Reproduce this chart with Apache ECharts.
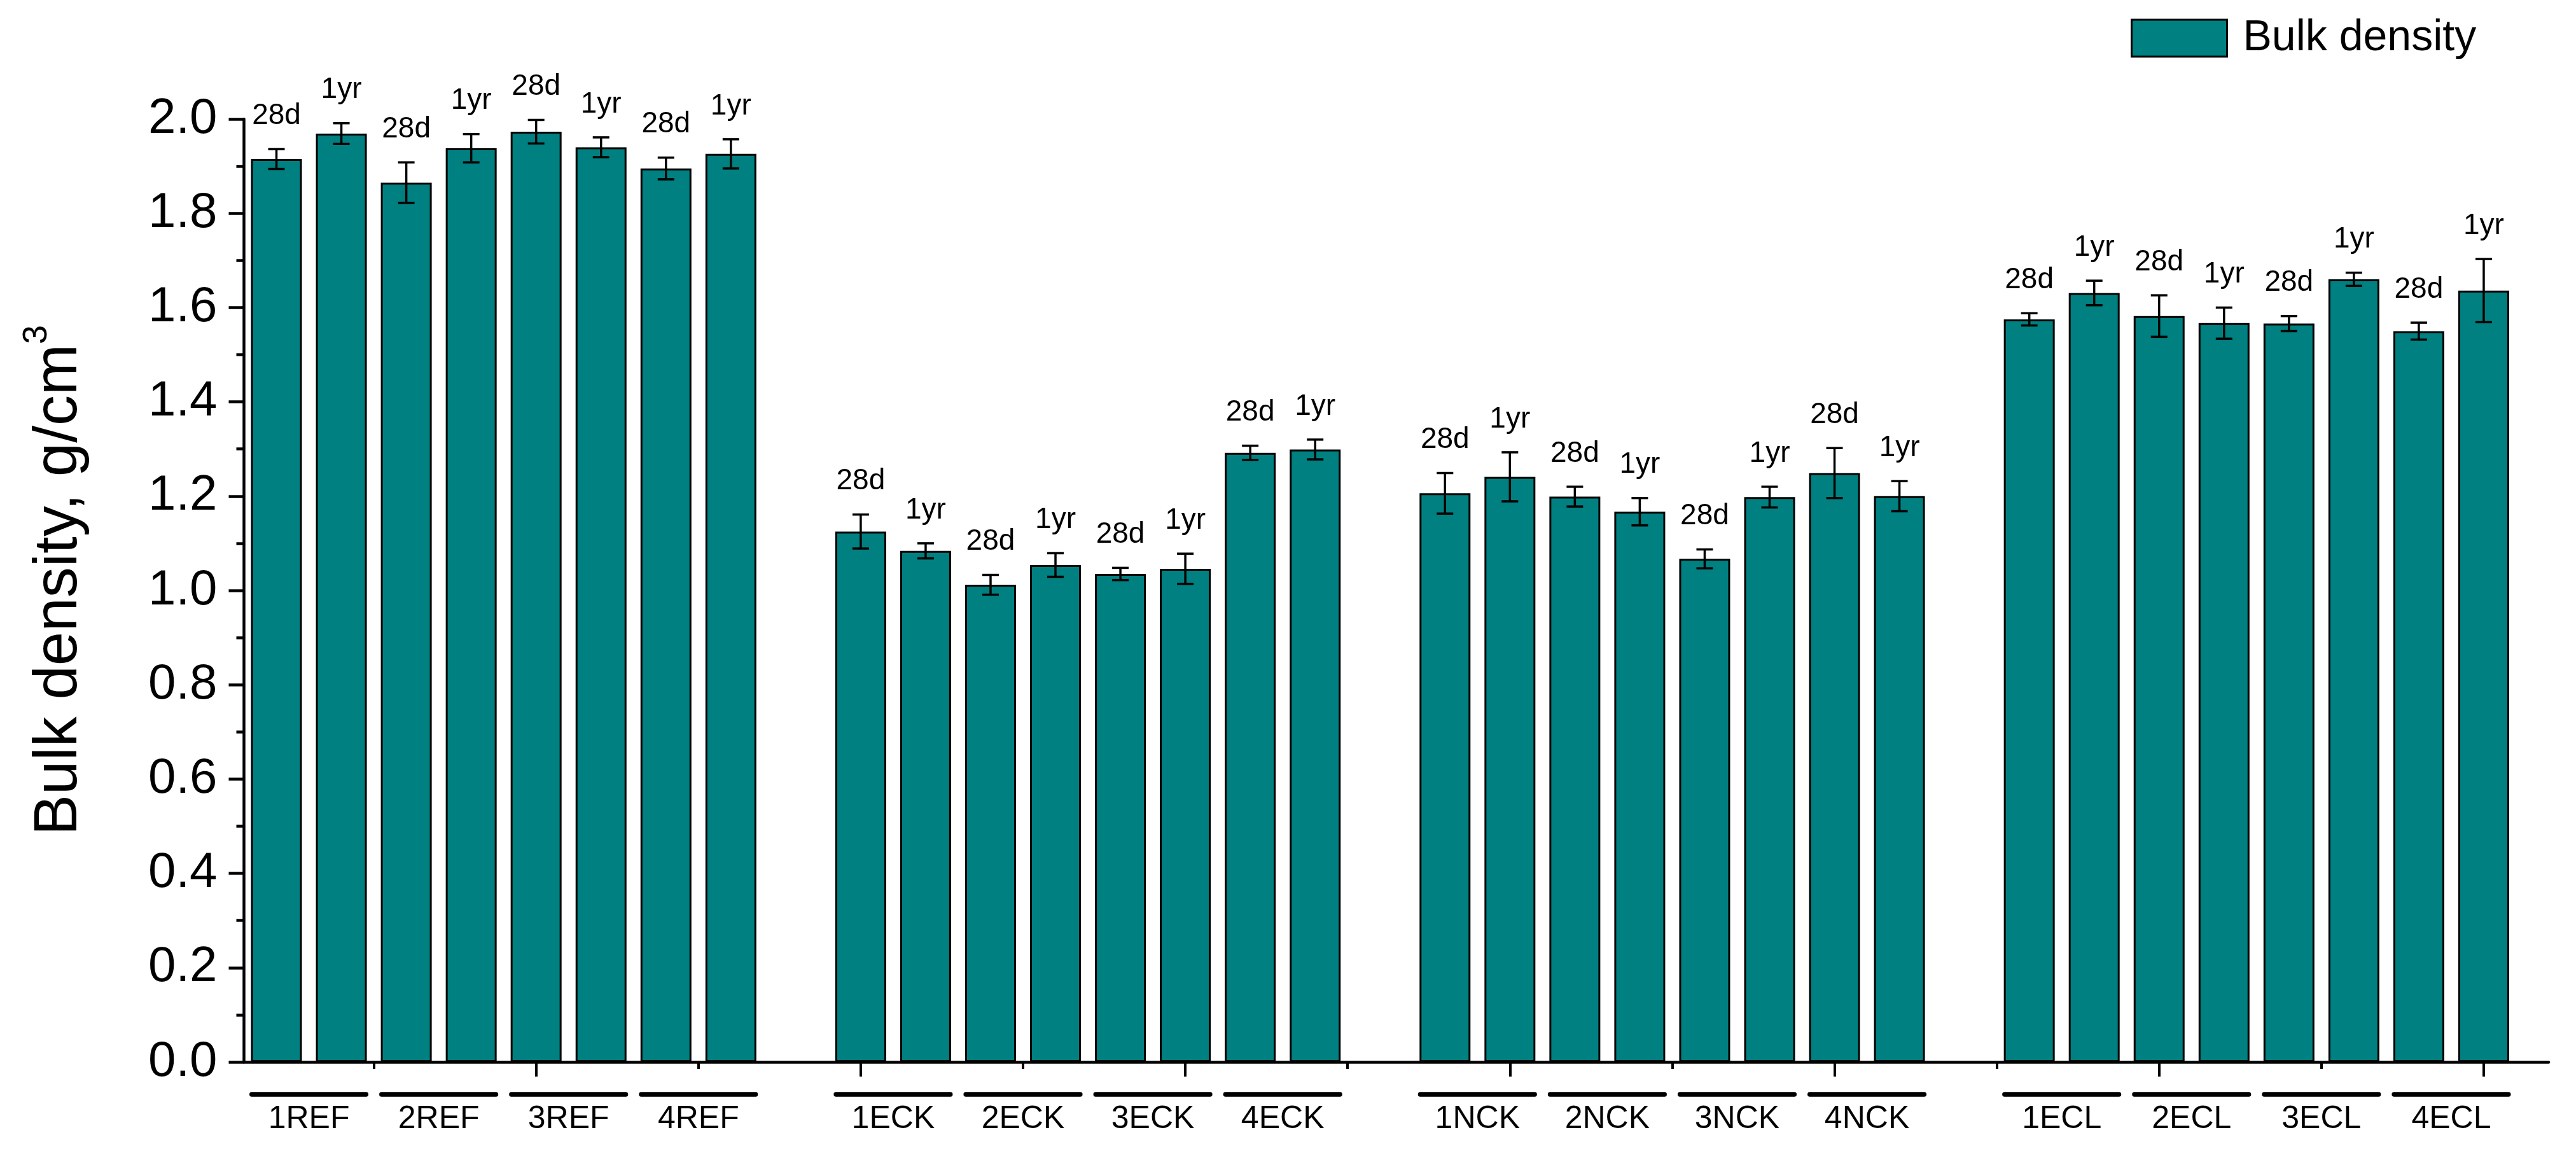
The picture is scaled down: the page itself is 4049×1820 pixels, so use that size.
<!DOCTYPE html>
<html>
<head>
<meta charset="utf-8">
<script src="https://cdn.jsdelivr.net/npm/echarts@6/dist/echarts.min.js"></script>
<style>
html,body{margin:0;padding:0;background:#fff;}
#chart{width:4049px;height:1820px;}
</style>
</head>
<body>
<div id="chart"></div>
<script>
// ---- data ----
const groups = ['REF', 'ECK', 'NCK', 'ECL'];
const categories = ['1REF','2REF','3REF','4REF','1ECK','2ECK','3ECK','4ECK','1NCK','2NCK','3NCK','4NCK','1ECL','2ECL','3ECL','4ECL'];
const ages = ['28d', '1yr'];
const density28d = [1.915, 1.865, 1.973, 1.895, 1.125, 1.012, 1.035, 1.292, 1.206, 1.199, 1.067, 1.249, 1.575, 1.582, 1.566, 1.550];
const density1yr = [1.969, 1.938, 1.940, 1.926, 1.084, 1.054, 1.046, 1.299, 1.241, 1.167, 1.198, 1.200, 1.631, 1.567, 1.660, 1.636];
const error28d   = [0.021, 0.043, 0.025, 0.023, 0.036, 0.021, 0.013, 0.015, 0.043, 0.021, 0.020, 0.053, 0.013, 0.044, 0.016, 0.018];
const error1yr   = [0.022, 0.030, 0.021, 0.031, 0.016, 0.025, 0.032, 0.021, 0.052, 0.029, 0.022, 0.032, 0.026, 0.033, 0.014, 0.067];
const yTicks = [0, 0.2, 0.4, 0.6, 0.8, 1.0, 1.2, 1.4, 1.6, 1.8, 2.0];
const seriesName = 'Bulk density';
const yTitle = 'Bulk density, g/cm';
const yTitleSup = '3';

// ---- build positions (one empty slot between groups) ----
const perGroup = categories.length / groups.length;
function baseX(c) { const g = Math.floor(c / perGroup); const p = c % perGroup; return g * (perGroup * 2 + 1) + p * 2 + 1; }
const barData = [], errData = [], catData = [];
categories.forEach((name, c) => {
  const x0 = baseX(c);
  const vals = [density28d[c], density1yr[c]];
  const errs = [error28d[c], error1yr[c]];
  ages.forEach((a, k) => {
    barData.push([x0 + k, vals[k]]);
    errData.push([x0 + k, vals[k], errs[k], a]);
  });
  catData.push([x0 + 0.5, name]);
});
const xMax = groups.length * (perGroup * 2 + 1);
const majorTicks = [], minorTicks = [];
for (let v = 5; v <= xMax; v += 5) majorTicks.push(v);
for (let v = 2.5; v < xMax; v += 5) minorTicks.push(v);

const FONT = 'Liberation Sans, Arial, Helvetica, sans-serif';
const chart = echarts.init(document.getElementById('chart'), null, {renderer: 'canvas'});
const option = {
  animation: false,
  backgroundColor: '#ffffff',
  textStyle: {fontFamily: FONT, color: '#000'},
  grid: {left: 383.5, right: 43, top: 187, bottom: 151, containLabel: false, outerBoundsMode: 'none'},
  legend: {
    data: [seriesName], left: 3349, top: 26, padding: 0,
    itemWidth: 150, itemHeight: 58, icon: 'rect',
    itemStyle: {color: '#008080', borderColor: '#000', borderWidth: 3},
    textStyle: {fontSize: 68, color: '#000', fontFamily: FONT, padding: [0, 0, 0, 20]}
  },
  xAxis: [
    {
      type: 'value', min: 0.5, max: xMax,
      axisLine: {show: true, lineStyle: {color: '#000', width: 4.5}},
      axisTick: {show: true, customValues: majorTicks, length: 23, lineStyle: {color: '#000', width: 4}},
      axisLabel: {show: false}, splitLine: {show: false}
    },
    {
      type: 'value', min: 0.5, max: xMax, position: 'bottom',
      axisLine: {show: false},
      axisTick: {show: true, customValues: minorTicks, length: 11, lineStyle: {color: '#000', width: 4}},
      axisLabel: {show: false}, splitLine: {show: false}
    }
  ],
  yAxis: {
    type: 'value', min: yTicks[0], max: yTicks[yTicks.length - 1], interval: 0.2,
    axisLine: {show: true, lineStyle: {color: '#000', width: 4.5}},
    axisTick: {show: true, length: 24, lineStyle: {color: '#000', width: 4.5}},
    minorTick: {show: true, splitNumber: 2, length: 12, lineStyle: {color: '#000', width: 4.5}},
    axisLabel: {fontSize: 78, color: '#000', fontFamily: FONT, margin: 42, formatter: v => v.toFixed(1)},
    splitLine: {show: false}, minorSplitLine: {show: false}
  },
  graphic: [{
    type: 'text', x: 94, y: 912, rotation: Math.PI / 2, z: 100,
    style: {
      text: '{t|' + yTitle + '}{s|' + yTitleSup + '}',
      align: 'center', verticalAlign: 'middle', fill: '#000',
      rich: {
        t: {fontSize: 96, lineHeight: 125, fontFamily: FONT, fill: '#000'},
        s: {fontSize: 54, lineHeight: 54, fontFamily: FONT, verticalAlign: 'top', fill: '#000'}
      }
    }
  }],
  series: [
    {
      name: seriesName, type: 'bar', data: barData, barWidth: 80,
      itemStyle: {color: '#008080', borderColor: '#000', borderWidth: 3}, z: 2
    },
    {
      name: 'errors', type: 'custom', data: errData, z: 5, clip: false,
      renderItem: function (params, api) {
        const x = api.value(0), y = api.value(1), e = api.value(2);
        const lab = errData[params.dataIndex][3];
        const top = api.coord([x, y + e]);
        const bot = api.coord([x, y - e]);
        const hw = 13;
        const ls = {stroke: '#000', lineWidth: 3.5};
        return {
          type: 'group',
          children: [
            {type: 'line', shape: {x1: top[0], y1: top[1], x2: bot[0], y2: bot[1]}, style: ls},
            {type: 'line', shape: {x1: top[0] - hw, y1: top[1], x2: top[0] + hw, y2: top[1]}, style: ls},
            {type: 'line', shape: {x1: bot[0] - hw, y1: bot[1], x2: bot[0] + hw, y2: bot[1]}, style: ls},
            {type: 'text', x: top[0], y: top[1] - 52,
             style: {text: lab, fontSize: 46, fontFamily: FONT, fill: '#000', align: 'center', verticalAlign: 'middle'}}
          ]
        };
      }
    },
    {
      name: 'categories', type: 'custom', data: catData, z: 5, clip: false,
      renderItem: function (params, api) {
        const x = api.value(0);
        const lab = catData[params.dataIndex][1];
        const p = api.coord([x, 0]);
        const l = api.coord([x - 0.88, 0]);
        const r = api.coord([x + 0.88, 0]);
        return {
          type: 'group',
          children: [
            {type: 'line', shape: {x1: l[0], y1: p[1] + 51, x2: r[0], y2: p[1] + 51},
             style: {stroke: '#000', lineWidth: 7.5, lineCap: 'round'}},
            {type: 'text', x: p[0], y: p[1] + 90,
             style: {text: lab, fontSize: 50, fontFamily: FONT, fill: '#000', align: 'center', verticalAlign: 'middle'}}
          ]
        };
      }
    }
  ]
};
chart.setOption(option);
</script>
</body>
</html>
